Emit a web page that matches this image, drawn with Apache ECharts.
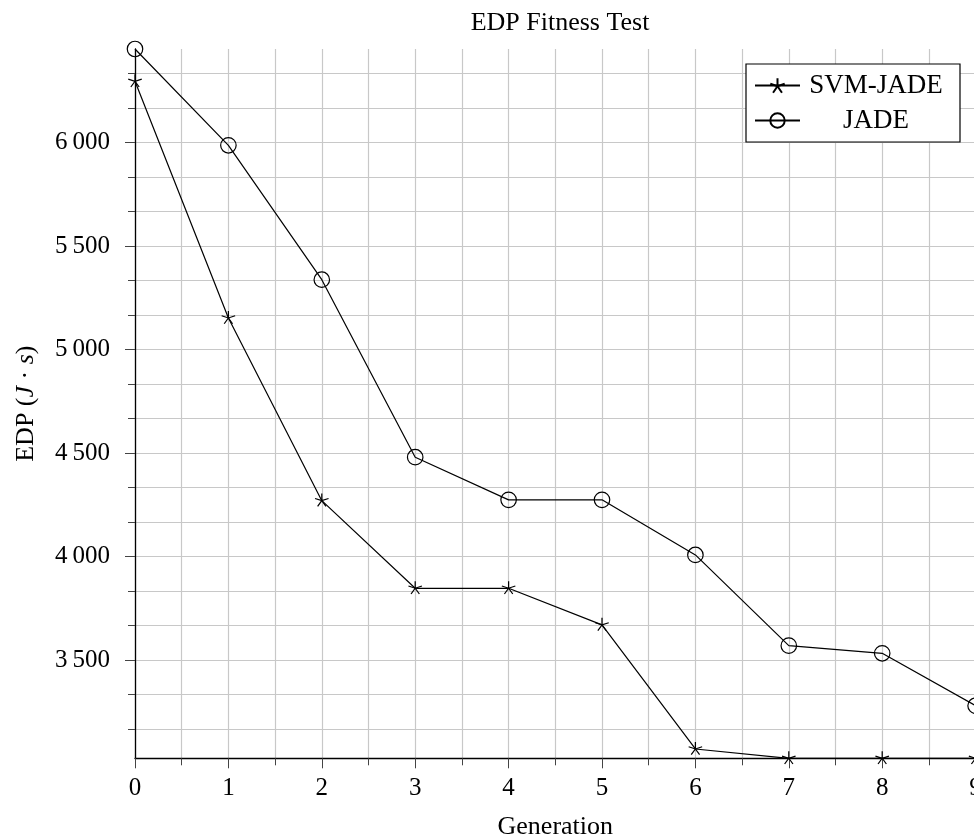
<!DOCTYPE html>
<html>
<head>
<meta charset="utf-8">
<title>EDP Fitness Test</title>
<script src="https://cdn.jsdelivr.net/npm/echarts@6/dist/echarts.min.js"></script>
<style>
  html, body { margin: 0; padding: 0; background: #fff; }
  #chart { width: 974px; height: 839px; }
</style>
</head>
<body>
<div id="chart"></div>
<script>
// Generations on the x axis
const generations = [0, 1, 2, 3, 4, 5, 6, 7, 8, 9];

// Best EDP fitness per generation (J·s)
const svmJade = [6295, 5152, 4270, 3847, 3847, 3670, 3071, 3026, 3026, 3026];
const jade    = [6451, 5986, 5337, 4480, 4274, 4274, 4008, 3570, 3533, 3280];

// Labelled ticks on the EDP axis
const yMajorTicks = [3500, 4000, 4500, 5000, 5500, 6000];
const seriesNames = ['SVM-JADE', 'JADE'];

const FONT = "'Liberation Serif', 'DejaVu Serif', serif";
const GRID_COLOR = '#c8c8c8';
const TICK_COLOR = '#444';

// Axis spans exactly the data range
const allValues = svmJade.concat(jade);
const yMin = Math.min(...allValues);
const yMax = Math.max(...allValues);

// Two minor ticks between every pair of labelled ticks
const yStep = yMajorTicks[1] - yMajorTicks[0];
const yAllTicks = [];
for (let v = yMajorTicks[0] - yStep; v <= yMajorTicks[yMajorTicks.length - 1] + yStep; v += yStep / 3) {
  if (v > yMin && v < yMax) yAllTicks.push(v);
}

const fmtThousands = v => String(v).replace(/\B(?=(\d{3})+(?!\d))/g, '\u2009');

// Five-armed star mark
const starPath = 'path://M10 0L10 10M0.49 6.91L10 10L19.51 6.91M4.12 18.09L10 10L15.88 18.09';

const toPairs = arr => generations.map((g, i) => [g, arr[i]]);

const chart = echarts.init(document.getElementById('chart'), null, { renderer: 'canvas' });

chart.setOption({
  animation: false,
  backgroundColor: '#fff',
  title: {
    text: 'EDP Fitness Test',
    left: 555,
    textAlign: 'center',
    top: 5,
    textStyle: { fontFamily: FONT, fontSize: 26, fontWeight: 'normal', color: '#000' }
  },
  legend: {
    orient: 'vertical',
    left: 746,
    top: 64,
    padding: [8, 13, 8, 8],
    itemGap: 8,
    itemWidth: 45,
    itemHeight: 18,
    borderColor: '#000',
    borderWidth: 1.2,
    borderRadius: 0,
    backgroundColor: '#fff',
    selectedMode: false,
    data: seriesNames,
    formatter: name => '{c|' + name + '}',
    textStyle: {
      color: '#000',
      fontFamily: FONT,
      fontSize: 27,
      rich: {
        c: { width: 142, align: 'center', fontFamily: FONT, fontSize: 27, lineHeight: 26, color: '#000' }
      }
    }
  },
  grid: { left: 135, right: -1.6, top: 49, bottom: 80.7, containLabel: false, outerBoundsMode: 'none' },
  xAxis: {
    type: 'value',
    min: 0,
    max: 9,
    interval: 1,
    name: 'Generation',
    nameLocation: 'middle',
    nameGap: 56,
    nameTextStyle: { fontFamily: FONT, fontSize: 26, color: '#000' },
    axisLine: { show: true, onZero: false, lineStyle: { color: '#000', width: 1.3 } },
    axisTick: { show: true, length: 10, lineStyle: { color: TICK_COLOR, width: 1 } },
    minorTick: { show: true, splitNumber: 2, length: 7, lineStyle: { color: TICK_COLOR, width: 1 } },
    axisLabel: { margin: 18, fontFamily: FONT, fontSize: 25, color: '#000' },
    splitLine: { show: true, lineStyle: { color: GRID_COLOR, width: 1.2 } },
    minorSplitLine: { show: true, lineStyle: { color: GRID_COLOR, width: 1.2 } }
  },
  yAxis: [
    {
      // grid lines, minor ticks and axis line
      type: 'value',
      min: yMin,
      max: yMax,
      position: 'left',
      axisLine: { show: true, onZero: false, lineStyle: { color: '#000', width: 1.3 } },
      axisTick: { show: true, length: 7, customValues: yAllTicks, lineStyle: { color: TICK_COLOR, width: 1 } },
      axisLabel: { show: false },
      splitLine: { show: true, lineStyle: { color: GRID_COLOR, width: 1.2 } }
    },
    {
      // labelled ticks and axis title
      type: 'value',
      min: yMin,
      max: yMax,
      position: 'left',
      name: '{n|EDP (}{i|J}{n| \u00b7 }{i|s}{n|)}',
      nameLocation: 'middle',
      nameGap: 96,
      nameRotate: 90,
      nameTextStyle: {
        fontFamily: FONT, fontSize: 26, color: '#000',
        rich: {
          n: { fontFamily: FONT, fontSize: 26, color: '#000' },
          i: { fontFamily: FONT, fontSize: 26, fontStyle: 'italic', color: '#000' }
        }
      },
      axisLine: { show: false },
      axisTick: { show: true, length: 10, customValues: yMajorTicks, lineStyle: { color: TICK_COLOR, width: 1 } },
      axisLabel: {
        customValues: yMajorTicks,
        margin: 25,
        fontFamily: FONT,
        fontSize: 25,
        color: '#000',
        formatter: v => fmtThousands(v)
      },
      splitLine: { show: false }
    }
  ],
  series: [
    {
      name: seriesNames[0],
      type: 'line',
      yAxisIndex: 0,
      data: toPairs(svmJade),
      clip: false,
      symbol: starPath,
      symbolSize: [13.5, 12.8],
      symbolOffset: [0, -0.7],
      lineStyle: { color: '#000', width: 1.2 },
      itemStyle: { color: 'rgba(0,0,0,0)', borderColor: '#000', borderWidth: 1.2 },
      emphasis: { disabled: true },
      z: 3
    },
    {
      name: seriesNames[1],
      type: 'line',
      yAxisIndex: 0,
      data: toPairs(jade),
      clip: false,
      symbol: 'circle',
      symbolSize: 15.5,
      lineStyle: { color: '#000', width: 1.2 },
      itemStyle: { color: 'rgba(0,0,0,0)', borderColor: '#000', borderWidth: 1.2 },
      emphasis: { disabled: true },
      z: 3
    }
  ]
});
</script>
</body>
</html>
